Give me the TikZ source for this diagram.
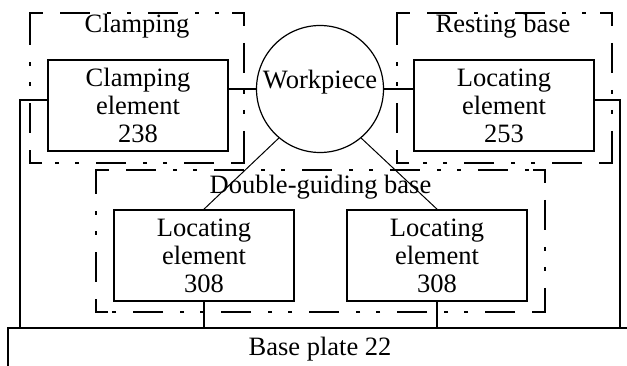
\documentclass[tikz,border=0pt]{standalone}
\usepackage{fontspec}
\setmainfont{Liberation Serif}
\newcommand\grpframe[4]{%
  \draw[group] (#1,#2) -- (#3,#2);
  \draw[group] (#3,#2) -- (#3,#4);
  \draw[group] (#3,#4) -- (#1,#4);
  \draw[group] (#1,#4) -- (#1,#2);
  \draw[corner] (#1,#2+12) -- (#1,#2) -- (#1+12,#2);
  \draw[corner] (#3-12,#2) -- (#3,#2) -- (#3,#2+12);
  \draw[corner] (#3,#4-12) -- (#3,#4) -- (#3-12,#4);
  \draw[corner] (#1+12,#4) -- (#1,#4) -- (#1,#4-12);
}
\begin{document}
\begin{tikzpicture}[x=1pt,y=-1pt,
  every node/.style={font=\fontsize{26.5}{28}\selectfont, align=center, inner sep=0pt},
  elem/.style={draw, line width=1.7pt, minimum width=180pt, minimum height=91pt},
  group/.style={draw, line width=1.7pt, dash pattern=on 30pt off 17pt on 4pt off 16pt on 4pt off 17pt, dash phase=58pt},
  corner/.style={draw, line width=1.7pt},
  wire/.style={line width=1.7pt},
  thin wire/.style={line width=1pt}]
\useasboundingbox (0,0) rectangle (627,366);
% group frames
\grpframe{30}{13}{244}{163}
\grpframe{397}{13}{612}{163}
\grpframe{96}{170}{545}{312}
\node (lclamp) at (137,26) {Clamping};
\node (lrest) at (503,26) {Resting base};
\node (ldouble) at (320.5,187) {Double-guiding base};
% elements
\node[elem] (ce) at (138,105.5) {Clamping\\element\\238};
\node[elem] (le1) at (504,105.5) {Locating\\element\\253};
\node[elem] (le2) at (204,255.5) {Locating\\element\\308};
\node[elem] (le3) at (437,255.5) {Locating\\element\\308};
\node[draw, circle, line width=1.2pt, minimum size=127pt] (wp) at (320,89) {};
\node (wpt) at (320,82) {Workpiece};
% base plate
\node[minimum width=619pt, minimum height=40pt, anchor=north west] (bp) at (8,328) {};
\node (bpt) at (320,349) {Base plate 22};
\draw[wire] (bp.south west) -- (bp.north west) -- (bp.north east);
% connectors
\draw[wire] (ce.east |- wp.west) -- (wp.west);
\draw[wire] (wp.east) -- (le1.west |- wp.east);
\draw[wire] (ce.west |- 0,100) -- (20,100) -- (20,0 |- bp.north);
\draw[wire] (le1.east |- 0,100) -- (620,100) -- (620,0 |- bp.north);
\draw[wire] (le2.south) -- (le2.south |- bp.north);
\draw[wire] (le3.south) -- (le3.south |- bp.north);
\draw[thin wire] (wp.-130) -- (le2.north);
\draw[thin wire] (wp.-50) -- (le3.north);
\end{tikzpicture}
\end{document}
